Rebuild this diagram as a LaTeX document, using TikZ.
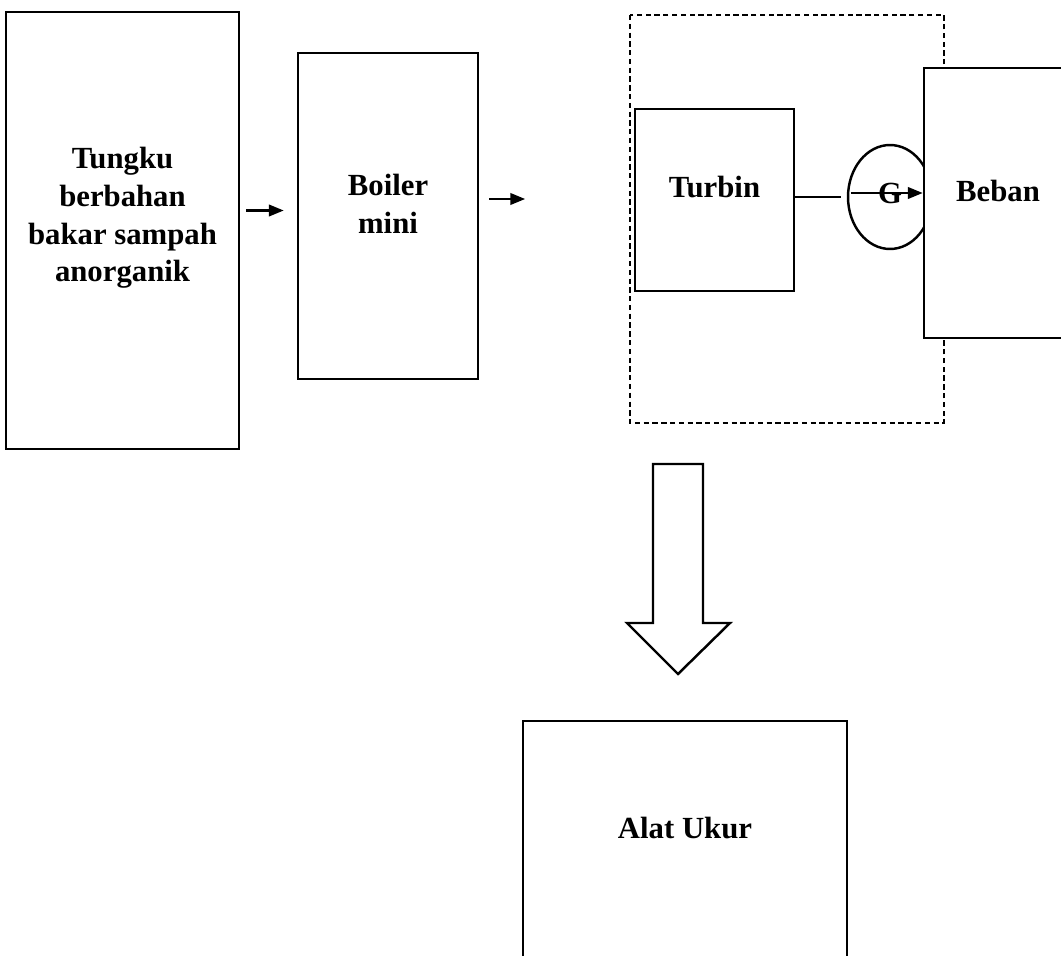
\documentclass[tikz,border=0pt]{standalone}
\usepackage{fontspec}
\setmainfont{Liberation Serif}
\usetikzlibrary{arrows.meta,shapes.geometric}

\begin{document}
\begin{tikzpicture}[x=0.02cm, y=-0.02cm,
    font=\fontsize{17.5}{21.5}\selectfont\bfseries,
    box/.style={draw, rectangle, line width=1.4pt, fill=white},
    boxtext/.style={align=center, yshift=0.25cm},
    arr/.style={line width=1.5pt, -{Triangle[length=8.5pt,width=6.5pt]}}]
    \useasboundingbox (0,0) rectangle (1061,956);
    \clip (0,0) rectangle (1061,956);

    \node (tungku) [box, minimum width=4.66cm, minimum height=8.74cm] at (122.5,230.5)
        [label={[boxtext]center:Tungku\\berbahan\\bakar sampah\\anorganik}] {};
    \node (boiler) [box, minimum width=3.6cm, minimum height=6.52cm] at (388,216)
        [label={[boxtext]center:Boiler\\mini}] {};

    \draw[dash pattern=on 3pt off 2pt, line width=1.4pt] (630,15) rectangle (944,423);
    \node (turbin) [box, minimum width=3.18cm, minimum height=3.64cm] at (714.5,200)
        [label={[boxtext]center:Turbin}] {};
    \node (gen) [draw, ellipse, line width=1.4pt, minimum width=1.68cm, minimum height=2.08cm, inner sep=0pt] at (890,197) {};
    \node (beban) [box, minimum width=2.96cm, minimum height=5.4cm] at (998,203)
        [label={[boxtext]center:Beban}] {};
    \node at ([shift={(0,-4)}]gen.center) {G};

    \node (ukur) [box, minimum width=6.48cm, minimum height=5.18cm] at (685,850.5)
        [label={[yshift=0.45cm]center:Alat Ukur}] {};

    \draw[arr] ([shift={(6,-20)}]tungku.east) -- ([shift={(-13,-20)}]tungku.east -| boiler.west);
    \draw[arr] ([shift={(10,-17)}]boiler.east) coordinate (b0) -- ++(36,0) coordinate (b1);
    \draw[line width=1.5pt] ([shift={(0,-3)}]turbin.east) -- ([shift={(-6,0)}]gen.west);
    \draw[arr] ([shift={(4,-4)}]gen.west) coordinate (g0) -- (g0 -| beban.west);

    \draw[line width=1.4pt, fill=white] (653,464) -- (703,464) -- (703,623) -- (730,623)
        -- (678,674) -- (627,623) -- (653,623) -- cycle;
\end{tikzpicture}
\end{document}
